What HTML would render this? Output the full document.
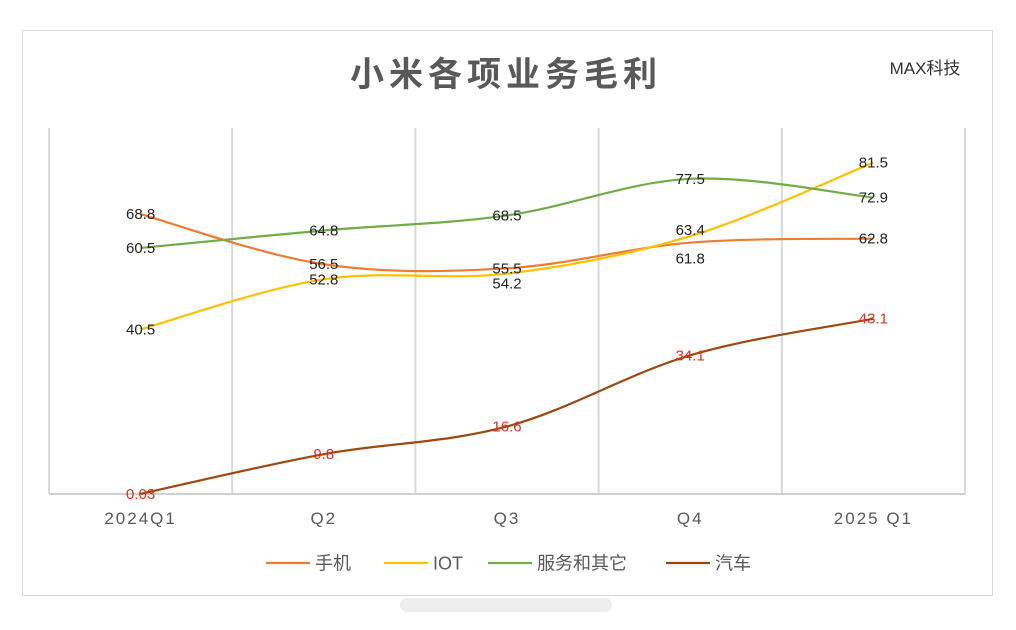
<!DOCTYPE html>
<html><head><meta charset="utf-8"><style>
body{margin:0;background:#fff;width:1016px;height:625px;overflow:hidden;font-family:"Liberation Sans","Noto Sans CJK SC",sans-serif}
</style></head><body>
<svg id="chart" width="1016" height="625" viewBox="0 0 1016 625" xmlns="http://www.w3.org/2000/svg">
<rect x="22.5" y="30.5" width="970" height="565" fill="#fff" stroke="#d9d9d9"/>
<text x="506" y="86" text-anchor="middle" font-size="34" font-weight="bold" fill="#595959" letter-spacing="5" font-family="'Liberation Sans','Noto Sans CJK SC',sans-serif">小米各项业务毛利</text>
<text x="925" y="74" text-anchor="middle" font-size="17" fill="#333" font-family="'Liberation Sans','Noto Sans CJK SC',sans-serif">MAX科技</text>
<g id="grid"></g><g id="lines"></g><g id="labels"></g><g id="xaxis"></g>
<g id="legend" font-size="18" fill="#595959"></g>
<rect x="400" y="598" width="212" height="14" rx="7" fill="#eeeeee"/>
</svg>
<script>
const categories=["2024Q1","Q2","Q3","Q4","2025 Q1"];
const seriesNames=["手机","IOT","服务和其它","汽车"];
const phone=[68.8,56.5,55.5,61.8,62.8];
const iot=[40.5,52.8,54.2,63.4,81.5];
const services=[60.5,64.8,68.5,77.5,72.9];
const car=[0.03,9.8,16.6,34.1,43.1];
const phoneLabels=["68.8","56.5","55.5","61.8","62.8"];
const iotLabels=["40.5","52.8","54.2","63.4","81.5"];
const servicesLabels=["60.5","64.8","68.5","77.5","72.9"];
const carLabels=["0.03","9.8","16.6","34.1","43.1"];
const NS="http://www.w3.org/2000/svg";
const L=49,R=965,T=128,B=494,YMAX=90;
const step=(R-L)/categories.length;
const xs=i=>L+step*(i+0.5);
const ys=v=>B-(v/YMAX)*(B-T);
function mk(tag,attrs,parent){const e=document.createElementNS(NS,tag);for(const k in attrs)e.setAttribute(k,attrs[k]);parent.appendChild(e);return e;}
const grid=document.getElementById('grid');
for(let i=0;i<=categories.length;i++){
 const g=mk('line',{x1:L+step*i,x2:L+step*i,y1:T,y2:B,stroke:'#d9d9d9','stroke-width':2},grid);
 
 
}
const ax=mk('line',{x1:L,x2:R,y1:B,y2:B,stroke:'#d0d0d0','stroke-width':2},grid);


const xa=document.getElementById('xaxis');
categories.forEach((c,i)=>{
 const t=mk('text',{x:xs(i),y:524,'text-anchor':'middle','font-size':17,fill:'#595959','letter-spacing':2},xa);
 t.textContent=c;
 
 
});
function smooth(vals){
 const p=vals.map((v,i)=>[xs(i),ys(v)]);
 let d=`M${p[0][0]},${p[0][1]}`;
 for(let i=0;i<p.length-1;i++){
  const p0=p[Math.max(i-1,0)],p1=p[i],p2=p[i+1],p3=p[Math.min(i+2,p.length-1)];
  const t=0.17;
  d+=` C${p1[0]+(p2[0]-p0[0])*t},${p1[1]+(p2[1]-p0[1])*t} ${p2[0]-(p3[0]-p1[0])*t},${p2[1]-(p3[1]-p1[1])*t} ${p2[0]},${p2[1]}`;
 }
 return d;
}
const colors=["#ED7D31","#FFC000","#70AD47","#9E480E"];
const all=[phone,iot,services,car];
const allLabels=[phoneLabels,iotLabels,servicesLabels,carLabels];
const labelColors=["#222","#222","#222","#E0301E"];
const lineNames=["phone-line","iot-line","services-line","car-line"];
const lg=document.getElementById('lines'),lb=document.getElementById('labels');
all.forEach((vals,s)=>{
 const p=mk('path',{d:smooth(vals),fill:'none',stroke:colors[s],'stroke-width':2.2},lg);
 
 
 vals.forEach((v,i)=>{
  let dy=0;
  if(s===1&&i===2)dy=10;
  if(s===0&&i===3)dy=16;
  if(s===1&&i===3)dy=-6;
  const t=mk('text',{x:xs(i),y:ys(v)+dy+5,'text-anchor':'middle','font-size':15,fill:labelColors[s]},lb);
  t.textContent=allLabels[s][i];
  
  
 });
});
const leg=document.getElementById('legend');
const lx=[266,384,488,666];
seriesNames.forEach((n,s)=>{
 const l=mk('line',{x1:lx[s],x2:lx[s]+44,y1:563,y2:563,stroke:colors[s],'stroke-width':2.2},leg);
 
 
 const t=mk('text',{x:lx[s]+49,y:569.5,'font-size':18,fill:'#595959'},leg);
 t.textContent=n;
 
 
});
</script>
</body></html>
